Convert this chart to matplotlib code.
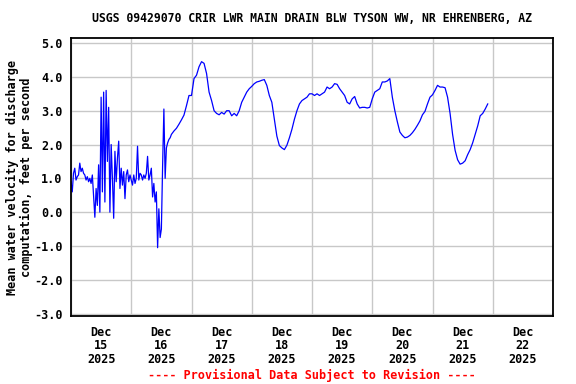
import numpy as np
import matplotlib
matplotlib.use("Agg")
import matplotlib.pyplot as plt
from matplotlib.ticker import FixedLocator, NullFormatter, FixedFormatter

# ---- data (hours since Dec 15 2025 00:00) ----
hours_fine = np.arange(0, 40.5, 0.5)
vel_fine = [
    0.9, 0.6, 1.15, 1.3, 0.95, 1.05, 1.1, 1.45, 1.2, 1.3,
    1.15, 1.1, 0.95, 1.05, 0.9, 1.0, 0.85, 1.1, 0.45, -0.15,
    0.7, 0.2, 1.4, 0.0, 3.4, 0.6, 3.55, 0.3, 3.6, 1.5,
    3.1, 0.0, 2.0, 1.0, -0.18, 1.8, 0.9, 1.6, 2.1, 0.7,
    1.3, 0.8, 1.2, 0.4, 1.1, 1.25, 0.9, 1.1,
    0.95, 0.8, 1.1, 0.85, 1.0, 1.95, 0.95, 1.15, 1.1, 0.95,
    1.1, 1.0, 1.15, 1.65, 0.95, 1.1, 1.3, 0.45, 0.85, 0.3,
    0.6, -1.05, 0.1, -0.75, -0.5, 1.4, 3.05, 1.0, 1.9, 2.05,
    2.15, 2.2, 2.3,
]
hours_hourly = np.arange(41, 167)
vel_hourly = [
    2.4, 2.48, 2.6, 2.73, 2.87, 3.15, 3.45, 3.45, 3.95, 4.05,
    4.3, 4.45, 4.4, 4.1, 3.55, 3.3, 3.0, 2.92, 2.88, 2.95,
    2.9, 3.0, 3.0, 2.85, 2.92, 2.85, 3.0, 3.25, 3.4, 3.55,
    3.65, 3.72, 3.8, 3.85, 3.87, 3.9, 3.92, 3.75, 3.45, 3.25,
    2.75, 2.25, 1.97, 1.9, 1.85, 1.98, 2.2, 2.45, 2.75, 3.0,
    3.2, 3.3, 3.35, 3.4, 3.5, 3.5, 3.45, 3.5, 3.45, 3.5,
    3.55, 3.7, 3.65, 3.7, 3.8, 3.78, 3.65, 3.55, 3.45, 3.25,
    3.2, 3.35, 3.42, 3.2, 3.08, 3.1, 3.1, 3.08, 3.1, 3.35,
    3.55, 3.6, 3.65, 3.85, 3.85, 3.88, 3.95, 3.4, 3.0, 2.67,
    2.37, 2.27, 2.2, 2.22, 2.27, 2.35, 2.45, 2.57, 2.7, 2.88,
    2.98, 3.2, 3.4, 3.47, 3.6, 3.75, 3.7, 3.7, 3.68, 3.4,
    2.92, 2.3, 1.83, 1.55, 1.42, 1.45, 1.52, 1.7, 1.85, 2.05,
    2.3, 2.55, 2.85, 2.92, 3.05, 3.2,
]
day_labels = ["Dec\n15\n2025", "Dec\n16\n2025", "Dec\n17\n2025", "Dec\n18\n2025",
              "Dec\n19\n2025", "Dec\n20\n2025", "Dec\n21\n2025", "Dec\n22\n2025"]
y_ticks = [-3.0, -2.0, -1.0, 0.0, 1.0, 2.0, 3.0, 4.0, 5.0]

hours = np.concatenate([hours_fine, hours_hourly])
vel = np.array(vel_fine + vel_hourly)

FONT = "DejaVu Sans Mono"
FS = 8.5

fig = plt.figure(figsize=(5.76, 3.84), dpi=100)
ax = fig.add_axes([71/576, 1-316/384, 482/576, 278/384])

ax.plot(hours, vel, color="#0000ff", lw=0.9)

ax.set_xlim(0, 192)
ax.set_ylim(-3.07, 5.15)

ax.xaxis.set_major_locator(FixedLocator(np.arange(0, 193, 24)))
ax.xaxis.set_major_formatter(NullFormatter())
ax.xaxis.set_minor_locator(FixedLocator(np.arange(12, 192, 24)))
ax.xaxis.set_minor_formatter(FixedFormatter(day_labels))
ax.set_yticks(y_ticks)
ax.set_yticklabels([f"{v:.1f}" for v in y_ticks])

ax.grid(True, which="major", color="#c8c8c8", lw=1.0)
ax.set_axisbelow(True)
ax.tick_params(axis="both", which="both", length=0)
ax.tick_params(axis="y", pad=6)
ax.tick_params(axis="x", which="minor", pad=7)
for lab in ax.get_xticklabels(minor=True):
    lab.set_fontfamily(FONT)
    lab.set_fontweight("bold")
    lab.set_fontsize(FS)
    lab.set_linespacing(1.07)
for lab in ax.get_yticklabels():
    lab.set_fontfamily(FONT)
    lab.set_fontweight("bold")
    lab.set_fontsize(FS)

for s in ax.spines.values():
    s.set_linewidth(1.3)
    s.set_color("black")

ax.set_ylabel("Mean water velocity for discharge\ncomputation, feet per second",
              fontfamily=FONT, fontweight="bold", fontsize=FS, linespacing=1.1, labelpad=1)

fig.text(312/576, 1-19/384, "USGS 09429070 CRIR LWR MAIN DRAIN BLW TYSON WW, NR EHRENBERG, AZ",
         ha="center", va="center", fontfamily=FONT, fontweight="bold", fontsize=8.3)
fig.text(312/576, 1-375/384, "---- Provisional Data Subject to Revision ----",
         ha="center", va="center", fontfamily=FONT, fontweight="bold", fontsize=FS, color="red")

fig.savefig("out.png", dpi=100)
